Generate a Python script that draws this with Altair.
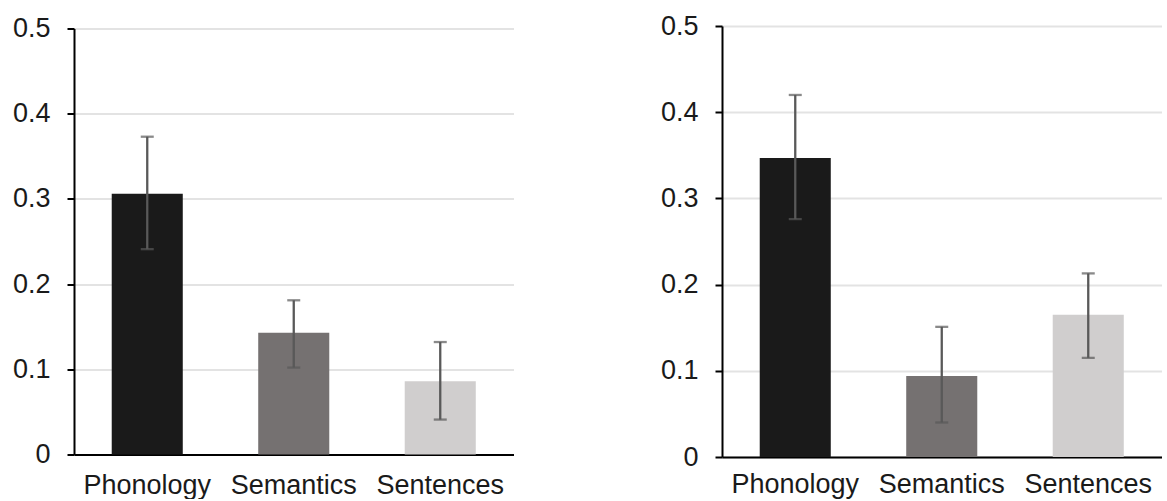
import altair as alt
import pandas as pd

categories = ["Phonology", "Semantics", "Sentences"]
colors = ["#1a1a1a", "#757171", "#d0cece"]

# Left panel
left_values = [0.306, 0.143, 0.086]
left_lower = [0.241, 0.102, 0.041]
left_upper = [0.373, 0.181, 0.132]

# Right panel
right_values = [0.347, 0.094, 0.165]
right_lower = [0.276, 0.040, 0.115]
right_upper = [0.420, 0.151, 0.213]

y_ticks = [0, 0.1, 0.2, 0.3, 0.4, 0.5]

FONT = "Liberation Sans"
ERR = "#595959"


def panel(values, lower, upper, height, xpad):
    df = pd.DataFrame({"cat": categories, "val": values, "lo": lower, "hi": upper})
    base = alt.Chart(df)
    xenc = alt.X(
        "cat:N",
        sort=categories,
        scale=alt.Scale(paddingInner=0.515, paddingOuter=0.2575),
        axis=alt.Axis(title=None, ticks=False, grid=False, labelAngle=0,
                      labelPadding=xpad, domainColor="black", domainWidth=2),
    )
    yscale = alt.Scale(domain=[0, 0.5], nice=False, zero=True)
    bars = base.mark_bar().encode(
        x=xenc,
        y=alt.Y(
            "val:Q",
            scale=yscale,
            axis=alt.Axis(title=None, values=y_ticks, format=".1~f", grid=True,
                          gridColor="#e3e3e3", gridWidth=2, tickSize=7,
                          tickColor="black", tickWidth=2, domainColor="black",
                          domainWidth=2, labelPadding=17, labelFlush=False),
        ),
        color=alt.Color("cat:N", scale=alt.Scale(domain=categories, range=colors), legend=None),
    )
    rules = base.mark_rule(color=ERR, strokeWidth=2.3).encode(
        x=alt.X("cat:N", sort=categories),
        y=alt.Y("lo:Q", scale=yscale),
        y2="hi:Q",
    )
    cap_lo = base.mark_tick(color=ERR, size=13, thickness=2.3).encode(
        x=alt.X("cat:N", sort=categories), y=alt.Y("lo:Q", scale=yscale)
    )
    cap_hi = base.mark_tick(color=ERR, size=13, thickness=2.3).encode(
        x=alt.X("cat:N", sort=categories), y=alt.Y("hi:Q", scale=yscale)
    )
    return alt.layer(bars, rules, cap_lo, cap_hi).properties(width=439.5, height=height)


left = panel(left_values, left_lower, left_upper, 426, 18)
right = panel(right_values, right_lower, right_upper, 431, 14)

chart = (
    alt.hconcat(left, right, spacing=208, center=True, bounds="flush")
    .properties(padding={"left": 12, "top": 12, "right": 0, "bottom": 0},
                background="white")
    .configure_view(stroke=None)
    .configure_axis(labelFont=FONT, labelFontSize=27, labelColor="#1a1a1a")
)

chart.save("out.html", embed_options={"renderer": "svg", "actions": False})
